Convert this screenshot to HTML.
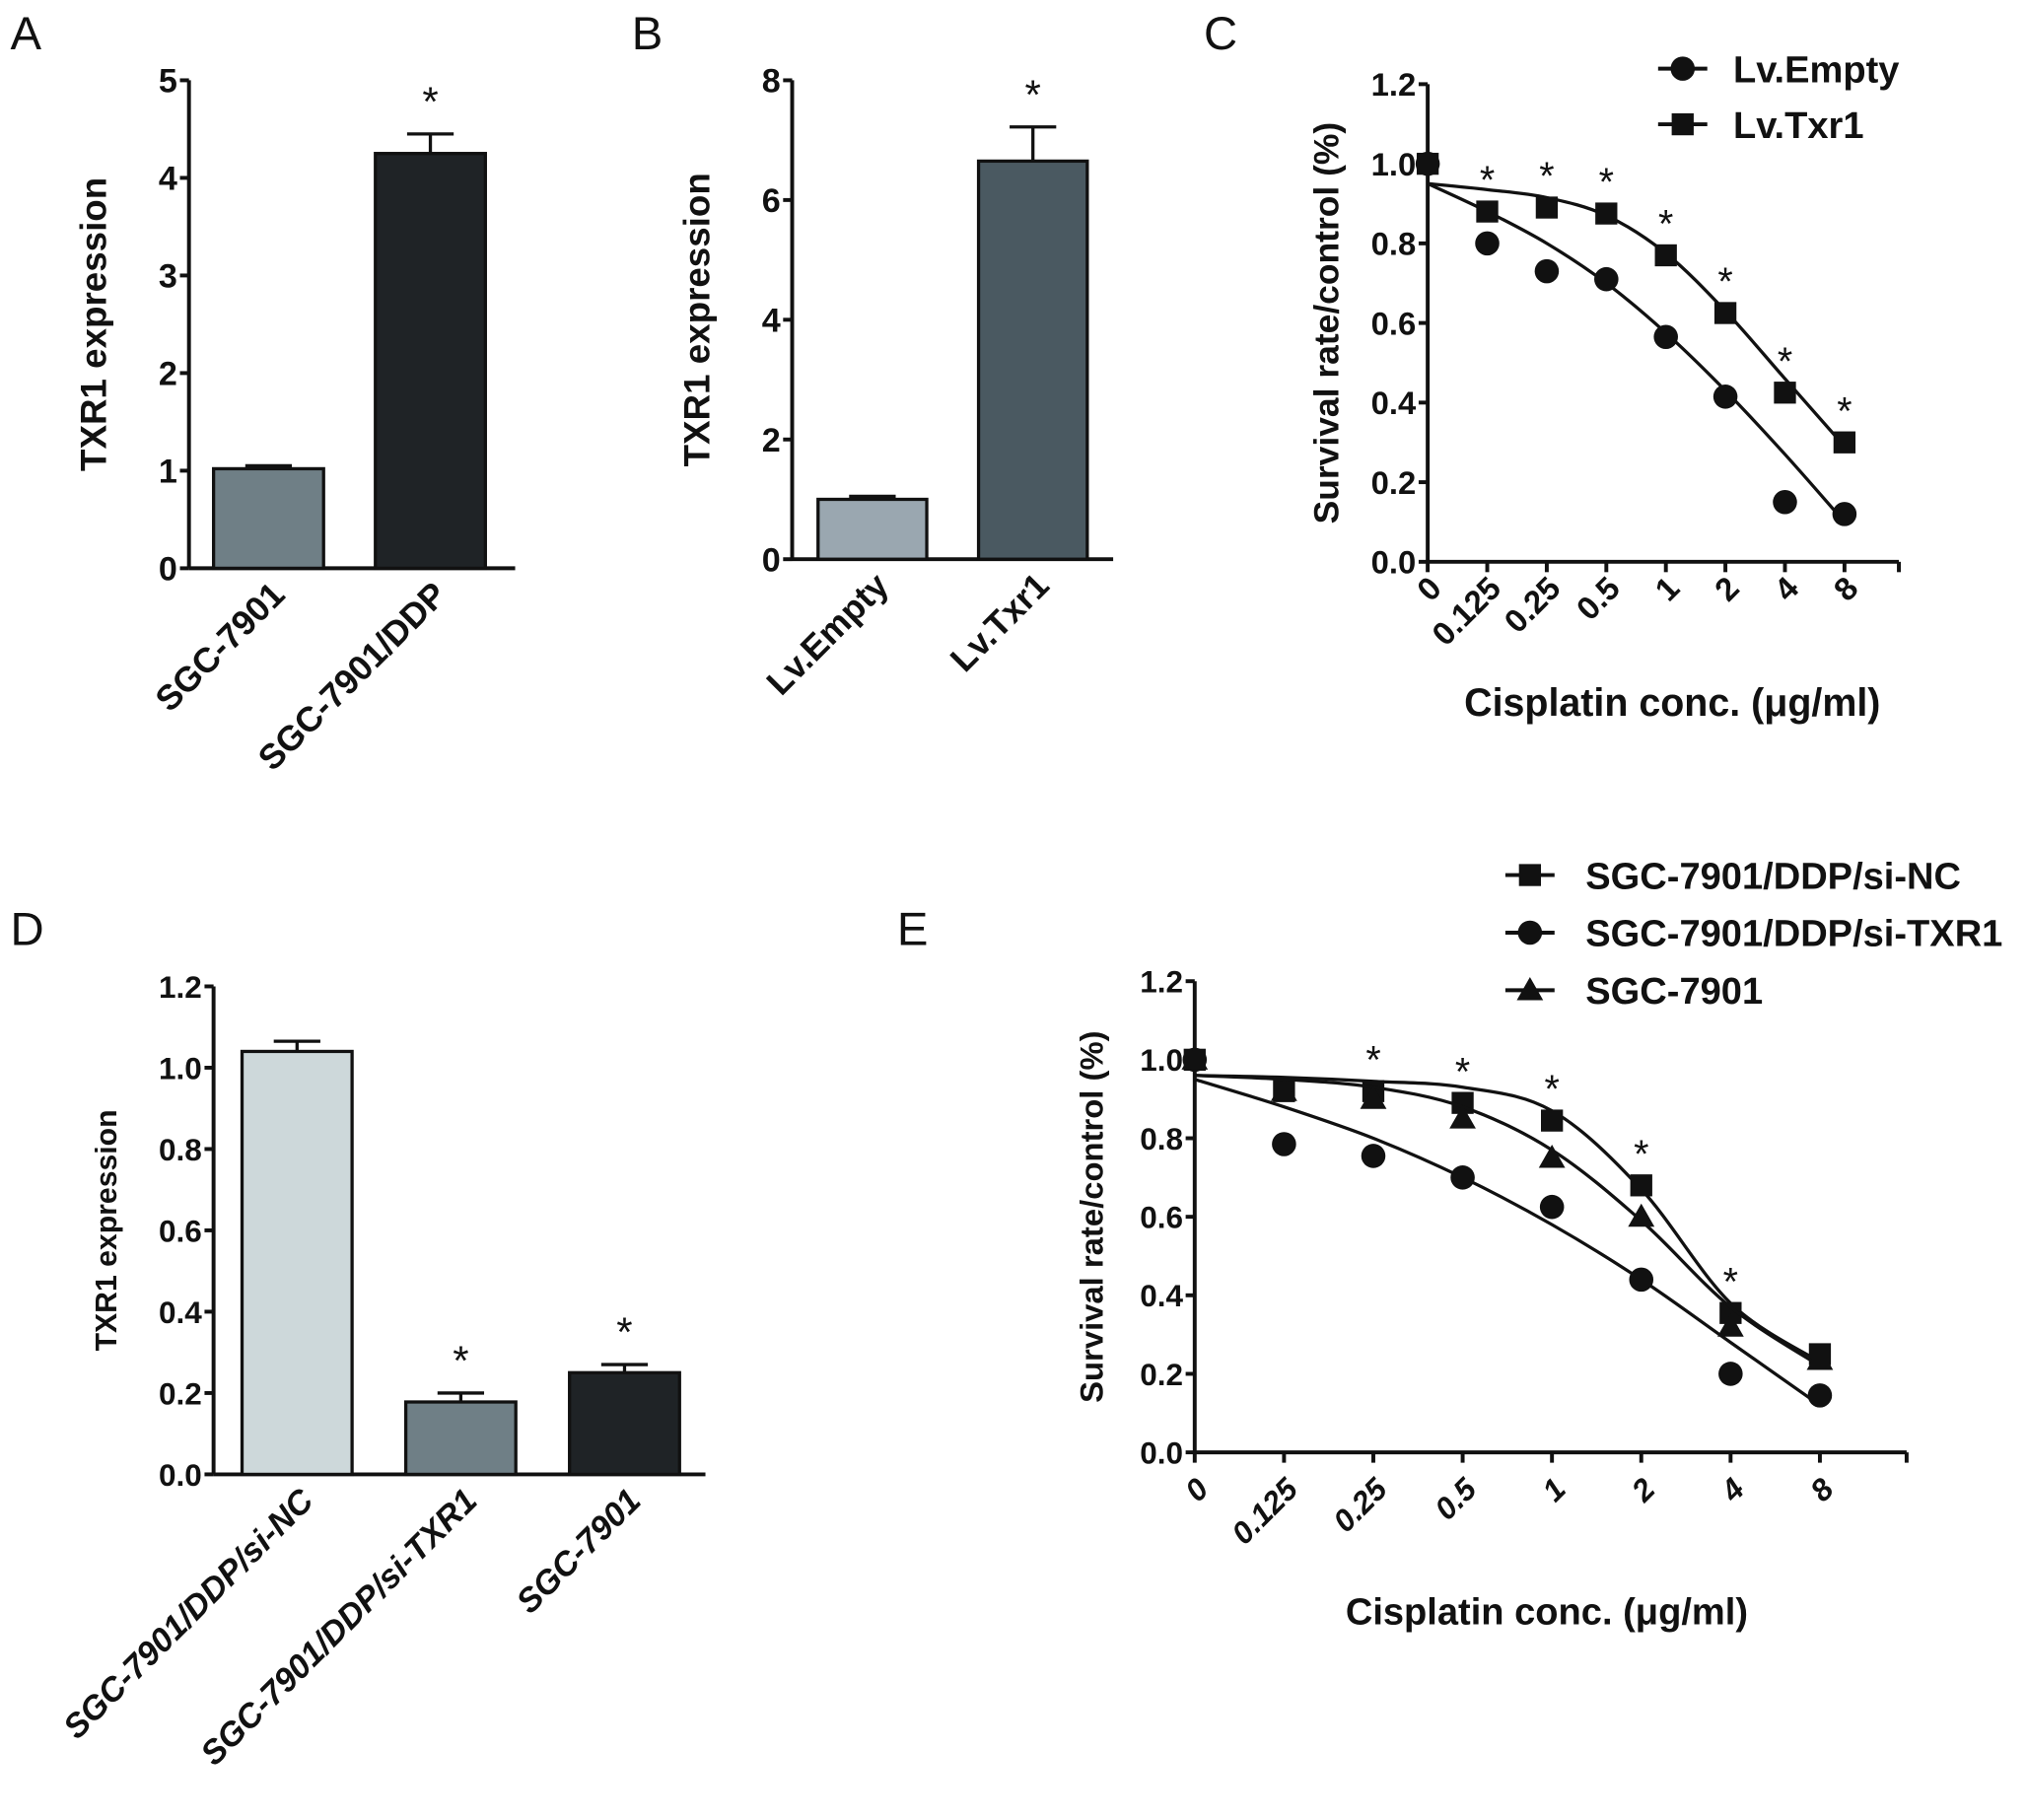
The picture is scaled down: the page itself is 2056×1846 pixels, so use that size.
<!DOCTYPE html>
<html><head><meta charset="utf-8"><style>
html,body{margin:0;padding:0;background:#fff}
svg{display:block}
text{font-family:"Liberation Sans",sans-serif;fill:#111}
.t{font-weight:bold}
.pl{font-size:36px}
</style></head><body>
<svg id="fig" width="2056" height="1846" viewBox="0 0 1566 1406" xmlns="http://www.w3.org/2000/svg"></svg>
<script>
// ---- Panel A data
const aCats=["SGC-7901","SGC-7901/DDP"];
const aVals=[1.02,4.25];
const aErr=[0.03,0.2];
const aTicks=[0,1,2,3,4,5];
// ---- Panel B data
const bCats=["Lv.Empty","Lv.Txr1"];
const bVals=[1.0,6.65];
const bErr=[0.05,0.57];
const bTicks=[0,2,4,6,8];
// ---- Panel C data
const cCats=["0","0.125","0.25","0.5","1","2","4","8"];
const cEmpty=[1.0,0.80,0.73,0.71,0.565,0.415,0.15,0.12];
const cTxr=[1.0,0.88,0.89,0.875,0.77,0.625,0.425,0.30];
const cEmptyFit=[0.95,0.88,0.80,0.70,0.575,0.43,0.27,0.10];
const cTxrFit=[0.95,0.935,0.915,0.87,0.775,0.63,0.46,0.29];
const cStars=[0,1,1,1,1,1,1,1];
const cTicks=[0,0.2,0.4,0.6,0.8,1.0,1.2];
// ---- Panel D data
const dCats=["SGC-7901/DDP/si-NC","SGC-7901/DDP/si-TXR1","SGC-7901"];
const dVals=[1.04,0.178,0.25];
const dErr=[0.025,0.022,0.02];
const dStars=[0,1,1];
const dTicks=[0,0.2,0.4,0.6,0.8,1.0,1.2];
// ---- Panel E data
const eCats=["0","0.125","0.25","0.5","1","2","4","8"];
const eNC=[1.0,0.92,0.92,0.89,0.845,0.68,0.355,0.25];
const eTXR=[1.0,0.785,0.755,0.70,0.625,0.44,0.20,0.145];
const eSGC=[1.0,0.92,0.90,0.85,0.75,0.60,0.32,0.235];
const eNCFit=[0.96,0.955,0.945,0.93,0.87,0.67,0.38,0.23];
const eTXRFit=[0.95,0.88,0.80,0.70,0.58,0.44,0.28,0.12];
const eSGCFit=[0.96,0.95,0.93,0.88,0.77,0.59,0.37,0.22];
const eStars=[0,0,1,1,1,1,1,0];
const eTicks=[0,0.2,0.4,0.6,0.8,1.0,1.2];

const NS="http://www.w3.org/2000/svg";
const svg=document.getElementById('fig');
function mk(tag,attrs,parent){const e=document.createElementNS(NS,tag);for(const k in attrs)e.setAttribute(k,attrs[k]);(parent||svg).appendChild(e);return e;}
function txt(s,x,y,attrs,parent){const e=mk('text',Object.assign({x:x,y:y},attrs||{}),parent);e.textContent=s;return e;}

function panelLabel(s,x,y){const e=txt(s,x,y,{class:'pl'});

}

function yAxis(g,ax,y0,y1,ticks,max,fmt,title,titleX,tfs,yfs){
  const ys=v=>y0-(v/max)*(y0-y1);
  const l=mk('line',{x1:ax,y1:y0,x2:ax,y2:y1,stroke:'#111','stroke-width':3},g);
  
  
  ticks.forEach(t=>{
    mk('line',{x1:ax-7,y1:ys(t),x2:ax,y2:ys(t),stroke:'#111','stroke-width':3},g);
    const e=txt(fmt(t),ax-9,ys(t)+tfs*0.36,{'text-anchor':'end',class:'t','font-size':tfs},g);
    
    
  });
  const tt=txt(title,0,0,{'text-anchor':'middle',class:'t','font-size':yfs,transform:`translate(${titleX},${(y0+y1)/2}) rotate(-90)`},g);
  
  
  return ys;
}

function barChart(name,opt){
  const g=mk('g',{});
  
  
  const ys=yAxis(g,opt.ax,opt.y0,opt.y1,opt.ticks,opt.max,opt.fmt,'TXR1 expression',opt.titleX,opt.tfs,opt.yfs);
  const xl=mk('line',{x1:opt.ax,y1:opt.y0,x2:opt.axEnd,y2:opt.y0,stroke:'#111','stroke-width':3},g);
  
  
  opt.cats.forEach((c,i)=>{
    const x=opt.x0+i*opt.step;
    const top=ys(opt.vals[i]);const et=ys(opt.vals[i]+opt.err[i]);const cx=x+opt.bw/2;
    mk('line',{x1:cx,y1:top,x2:cx,y2:et,stroke:'#111','stroke-width':2.5},g);
    mk('line',{x1:cx-18,y1:et,x2:cx+18,y2:et,stroke:'#111','stroke-width':2.5},g);
    const r=mk('rect',{x:x,y:top,width:opt.bw,height:opt.y0-top,fill:opt.colors[i],stroke:'#111','stroke-width':2.5},g);
    
    
    if(opt.stars[i]){const s=txt('*',cx,et-14,{'text-anchor':'middle','font-size':32},g);
      
      }
    const lab=txt(c,0,0,{'text-anchor':'end',class:'t','font-size':opt.lfs,'font-style':opt.italic?'italic':'normal',transform:`translate(${cx+14},${opt.y0+22}) rotate(-45)`},g);
    
    
  });
}

function marker(g,type,x,y,sz){
  if(type==='c')return mk('circle',{cx:x,cy:y,r:sz*0.55,fill:'#111'},g);
  if(type==='s')return mk('rect',{x:x-sz/2,y:y-sz/2,width:sz,height:sz,fill:'#111'},g);
  return mk('polygon',{points:`${x},${y-sz*0.6} ${x+sz*0.6},${y+sz*0.45} ${x-sz*0.6},${y+sz*0.45}`,fill:'#111'},g);
}
function smooth(pts){
  let d=`M${pts[0][0]},${pts[0][1]}`;
  for(let i=0;i<pts.length-1;i++){
    const p0=pts[i-1]||pts[i],p1=pts[i],p2=pts[i+1],p3=pts[i+2]||p2;
    d+=` C${p1[0]+(p2[0]-p0[0])/6},${p1[1]+(p2[1]-p0[1])/6} ${p2[0]-(p3[0]-p1[0])/6},${p2[1]-(p3[1]-p1[1])/6} ${p2[0]},${p2[1]}`;
  }
  return d;
}
function lineChart(name,opt){
  const g=mk('g',{});
  
  
  const ys=yAxis(g,opt.ax,opt.y0,opt.y1,opt.ticks,1.2,t=>t.toFixed(1),'Survival rate/control (%)',opt.titleX,opt.tfs,opt.yfs);
  const xs=i=>opt.ax+i*opt.step;
  const xl=mk('line',{x1:opt.ax,y1:opt.y0,x2:opt.axEnd,y2:opt.y0,stroke:'#111','stroke-width':3},g);
  
  
  opt.cats.forEach((c,i)=>{
    mk('line',{x1:xs(i),y1:opt.y0,x2:xs(i),y2:opt.y0+8,stroke:'#111','stroke-width':3},g);
    const e=txt(c,0,0,{'text-anchor':'end',class:'t','font-size':opt.tfs,'font-style':opt.italic?'italic':'normal',transform:`translate(${xs(i)+12},${opt.y0+opt.xlOff}) rotate(-45)`},g);
    
    
  });
  mk('line',{x1:opt.axEnd,y1:opt.y0,x2:opt.axEnd,y2:opt.y0+8,stroke:'#111','stroke-width':3},g);
  const xt=txt('Cisplatin conc. (μg/ml)',opt.xTitleX,opt.xTitleY,{'text-anchor':'middle',class:'t','font-size':opt.xfs},g);
  
  
  opt.series.forEach((s,k)=>{
    const p=mk('path',{d:smooth(s.fit.map((v,i)=>[xs(i),ys(v)])),fill:'none',stroke:'#111','stroke-width':2.5},g);
    
    
    s.vals.forEach((v,i)=>{const m=marker(g,s.m,xs(i),ys(v),17);
      
      });
    const ly=opt.legY+k*opt.legStep;
    mk('line',{x1:opt.legX,y1:ly,x2:opt.legX+38,y2:ly,stroke:'#111','stroke-width':3},g);
    marker(g,s.m,opt.legX+19,ly,17);
    const lt=txt(s.label,opt.legX+opt.legGap,ly+opt.legFs*0.36,{class:'t','font-size':opt.legFs},g);
    
    
  });
  opt.stars.forEach((st,i)=>{
    if(!st)return;
    const top=Math.max(...opt.series.map(s=>s.vals[i]));
    const e=txt('*',xs(i),ys(top)-14,{'text-anchor':'middle','font-size':30},g);
    
    
  });
}

panelLabel('A',8,38);panelLabel('B',488,38);panelLabel('C',930,38);panelLabel('D',8,730);panelLabel('E',693,730);

barChart('panel-a-bar-chart',{ax:146,y0:439,y1:62,ticks:aTicks,max:5,fmt:t=>String(t),titleX:82,axEnd:398,tfs:26,yfs:28,lfs:27,
  cats:aCats,vals:aVals,err:aErr,x0:165,step:125,bw:85,colors:['#6f7f86','#1f2326'],stars:[0,1]});
barChart('panel-b-bar-chart',{ax:612,y0:432,y1:62,ticks:bTicks,max:8,fmt:t=>String(t),titleX:548,axEnd:860,tfs:26,yfs:28,lfs:27,
  cats:bCats,vals:bVals,err:bErr,x0:632,step:124,bw:84,colors:['#9aa7b0','#4a5961'],stars:[0,1]});
lineChart('panel-c-line-chart',{ax:1103,y0:434,y1:65,ticks:cTicks,titleX:1034,axEnd:1467,step:46,cats:cCats,tfs:25,yfs:27,xfs:30,xlOff:22,
  xTitleX:1292,xTitleY:553,legX:1281,legY:53,legStep:43,legGap:58,legFs:29,stars:cStars,
  series:[{label:'Lv.Empty',m:'c',vals:cEmpty,fit:cEmptyFit},{label:'Lv.Txr1',m:'s',vals:cTxr,fit:cTxrFit}]});
barChart('panel-d-bar-chart',{ax:165,y0:1139,y1:762,ticks:dTicks,max:1.2,fmt:t=>t.toFixed(1),titleX:90,axEnd:545,tfs:24,yfs:23,lfs:26,italic:true,
  cats:dCats,vals:dVals,err:dErr,x0:187,step:126.5,bw:85,colors:['#cdd8da','#6f7f86','#1f2326'],stars:dStars});
lineChart('panel-e-line-chart',{ax:923,y0:1122,y1:758,ticks:eTicks,titleX:852,axEnd:1473,step:69,cats:eCats,tfs:24,yfs:25,xfs:29,xlOff:30,italic:true,
  xTitleX:1195,xTitleY:1255,legX:1163,legY:676,legStep:44.5,legGap:62,legFs:29,stars:eStars,
  series:[{label:'SGC-7901/DDP/si-NC',m:'s',vals:eNC,fit:eNCFit},{label:'SGC-7901/DDP/si-TXR1',m:'c',vals:eTXR,fit:eTXRFit},{label:'SGC-7901',m:'t',vals:eSGC,fit:eSGCFit}]});
</script>
</body></html>
